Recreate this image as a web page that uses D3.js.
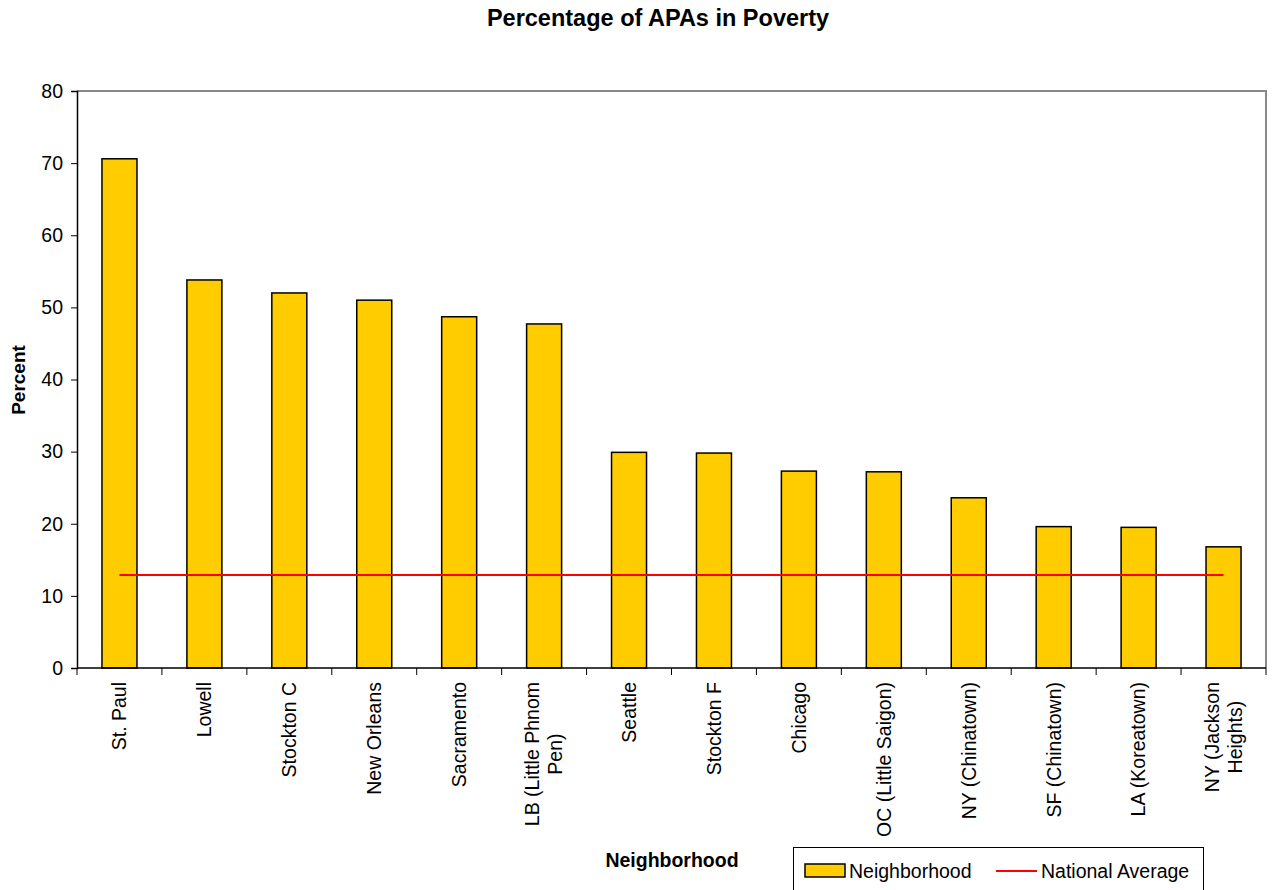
<!DOCTYPE html>
<html>
<head>
<meta charset="utf-8">
<script src="https://cdn.jsdelivr.net/npm/d3@7"></script>
<style>
  body { margin: 0; background: #fff; }
  svg { display: block; font-family: "Liberation Sans", Arial, sans-serif; }
</style>
</head>
<body>
<svg id="chart" width="1272" height="890"></svg>
<script>
// Neighborhoods (label lines) and poverty rates
const neighborhoods = [
  ["St. Paul"], ["Lowell"], ["Stockton C"], ["New Orleans"], ["Sacramento"],
  ["LB (Little Phnom", "Pen)"], ["Seattle"], ["Stockton F"], ["Chicago"],
  ["OC (Little Saigon)"], ["NY (Chinatown)"], ["SF (Chinatown)"],
  ["LA (Koreatown)"], ["NY (Jackson", "Heights)"]
];
const povertyPct = [70.6, 53.8, 52.0, 51.0, 48.7, 47.7, 29.9, 29.8, 27.3, 27.2, 23.6, 19.6, 19.5, 16.8];
const nationalAverage = [12.9];
const yTicks = [0, 10, 20, 30, 40, 50, 60, 70, 80];

const svg = d3.select("#chart");
const plotL = 77, plotR = 1266, plotT = 91, plotB = 668;
const keys = neighborhoods.map((d, i) => i);
const FS = 19.5;

const x = d3.scaleBand().domain(keys).range([plotL, plotR]).paddingInner(0).paddingOuter(0);
const y = d3.scaleLinear().domain([0, 80]).range([plotB, plotT]);
const barW = 35;

// Title
svg.append("text").attr("x", 658).attr("y", 26).attr("text-anchor", "middle")
  .attr("font-size", 23.5).attr("font-weight", "bold").text("Percentage of APAs in Poverty");

// Plot frame (top and right)
svg.append("path")
  .attr("d", `M${plotL},${plotT}H${plotR}V${plotB}`)
  .attr("fill", "none").attr("stroke", "#888").attr("stroke-width", 2);

// Bars
svg.append("g").selectAll("rect").data(povertyPct).join("rect")
  .attr("x", (d, i) => x(i) + x.bandwidth() / 2 - barW / 2)
  .attr("y", d => y(d))
  .attr("width", barW)
  .attr("height", d => y(0) - y(d))
  .attr("fill", "#ffcc00").attr("stroke", "#000").attr("stroke-width", 1.5);

// National average line across band centers
const avgLine = d3.line().x(d => d[0]).y(d => y(d[1]));
svg.append("path")
  .datum([[x(0) + x.bandwidth() / 2, nationalAverage[0]], [x(keys.length - 1) + x.bandwidth() / 2, nationalAverage[0]]])
  .attr("d", avgLine).attr("fill", "none").attr("stroke", "#ff0000").attr("stroke-width", 2);

// Y axis
const yAxis = svg.append("g").attr("transform", `translate(${plotL},0)`)
  .call(d3.axisLeft(y).tickValues(yTicks).tickSize(6).tickPadding(8));
yAxis.select(".domain").attr("stroke", "#000").attr("stroke-width", 1.5);
yAxis.selectAll(".tick line").attr("stroke", "#000");
yAxis.selectAll(".tick text").attr("font-size", FS).attr("fill", "#000")
  .attr("font-family", "Liberation Sans, Arial, sans-serif");

// X axis: line plus ticks at band edges
const xg = svg.append("g");
xg.append("line").attr("x1", plotL).attr("x2", plotR).attr("y1", plotB).attr("y2", plotB)
  .attr("stroke", "#000").attr("stroke-width", 1.5);
const edges = keys.map(i => x(i)).concat([plotR]);
xg.selectAll("line.tk").data(edges).join("line").attr("class", "tk")
  .attr("x1", d => d).attr("x2", d => d).attr("y1", plotB).attr("y2", plotB + 7)
  .attr("stroke", "#000").attr("stroke-width", 1);

// Category labels, rotated
const labG = svg.append("g");
neighborhoods.forEach((lines, i) => {
  const cx = x(i) + x.bandwidth() / 2;
  const n = lines.length;
  const t = labG.append("text")
    .attr("transform", `translate(${cx},682) rotate(-90)`)
    .attr("font-size", FS).attr("fill", "#000");
  if (n === 1) {
    t.attr("text-anchor", "end").attr("dy", "0.35em").text(lines[0]);
  } else {
    // lines centred on each other; the longest line ends at the axis side
    const lh = 23;
    const tmp = labG.append("text").attr("font-size", FS).text(lines[0]);
    const w0 = tmp.node().getComputedTextLength();
    tmp.remove();
    lines.forEach((s, k) => {
      t.append("tspan").attr("x", -w0 / 2).attr("text-anchor", "middle")
        .attr("y", (k - (n - 1) / 2) * lh).attr("dy", "0.35em").text(s);
    });
  }
});

// Axis titles
svg.append("text").attr("transform", "translate(25,380) rotate(-90)").attr("text-anchor", "middle")
  .attr("font-size", 19).attr("font-weight", "bold").text("Percent");
svg.append("text").attr("x", 672).attr("y", 867).attr("text-anchor", "middle")
  .attr("font-size", 19.5).attr("font-weight", "bold").text("Neighborhood");

// Legend
const lg = svg.append("g");
lg.append("rect").attr("x", 793.5).attr("y", 847.5).attr("width", 410).attr("height", 50)
  .attr("fill", "#fff").attr("stroke", "#000").attr("stroke-width", 1);
lg.append("rect").attr("x", 805).attr("y", 864).attr("width", 40).attr("height", 13)
  .attr("fill", "#ffcc00").attr("stroke", "#000").attr("stroke-width", 1.5);
lg.append("text").attr("x", 849).attr("y", 878).attr("font-size", FS).text("Neighborhood");
lg.append("line").attr("x1", 996).attr("x2", 1037).attr("y1", 871).attr("y2", 871)
  .attr("stroke", "#ff0000").attr("stroke-width", 2);
lg.append("text").attr("x", 1041).attr("y", 878).attr("font-size", FS).text("National Average");
</script>
</body>
</html>
